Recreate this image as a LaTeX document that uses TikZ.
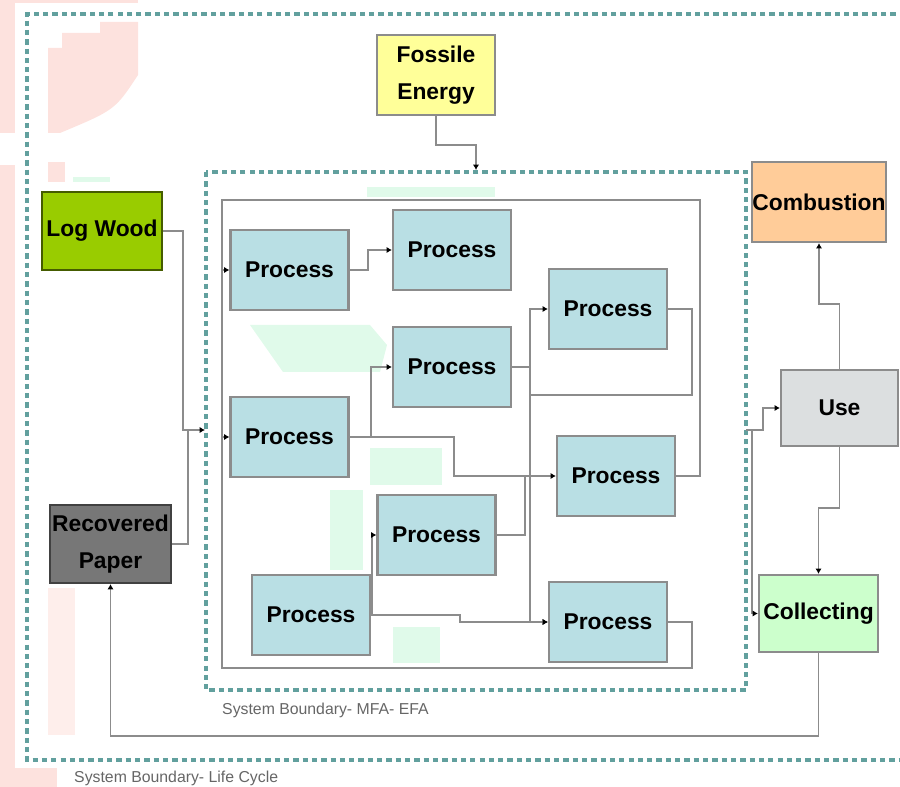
\documentclass[tikz,border=0pt]{standalone}
\usepackage{fontspec}
\setmainfont{Liberation Sans}
\usepackage{tikz}
\usetikzlibrary{arrows.meta, calc}
\definecolor{procBlue}{RGB}{185,223,228}
\definecolor{woodGreen}{RGB}{153,204,0}
\definecolor{fossilYellow}{RGB}{255,255,153}
\definecolor{combOrange}{RGB}{255,204,153}
\definecolor{useGray}{RGB}{220,223,224}
\definecolor{collGreen}{RGB}{204,255,204}
\definecolor{paperGray}{RGB}{119,119,119}
\definecolor{boundTeal}{RGB}{98,160,158}
\definecolor{lineGray}{RGB}{140,140,140}
\definecolor{bgPink}{RGB}{253,226,222}
\definecolor{bgMint}{RGB}{224,250,234}
\tikzset{
  box/.style={draw=lineGray, line width=1.2pt, inner sep=0pt, align=center,
    font=\fontsize{13}{21}\selectfont\bfseries},
  process/.style={box, fill=procBlue, minimum width=2.36cm, minimum height=1.6cm},
  conn/.style={draw=lineGray, line width=0.9pt},
  flow/.style={conn, -{Latex[length=3pt,width=3.5pt,color=black]}},
  boundary/.style={boundTeal, line width=2pt, dash pattern=on 3pt off 2.3pt},
  bnote/.style={anchor=west, text=black!60, font=\fontsize{9}{10}\selectfont}
}

\begin{document}
\begin{tikzpicture}[x=0.02cm, y=-0.02cm]
  \useasboundingbox (0,0) rectangle (900,787);
  % faded slide background
  \fill[bgPink] (0,0) rectangle (15,133);
  \fill[bgPink] (0,165) rectangle (15,787);
  \fill[bgPink] (0,768) rectangle (57,787);
  \fill[bgPink] (15,0) rectangle (138,3);
  \fill[bgPink] (48,48) -- (62,48) -- (62,33) -- (100,33) -- (100,22) -- (138,22)
    -- (138,75) .. controls (115,110) .. (60,133) -- (48,133) -- cycle;
  \fill[bgPink] (48,162) rectangle (65,182);
  \fill[bgPink!60] (48,588) rectangle (75,735);
  \fill[bgMint] (250,325) -- (370,325) -- (387,345) -- (380,372) -- (283,372) -- cycle;
  \fill[bgMint] (370,448) rectangle (442,485);
  \fill[bgMint] (330,490) rectangle (363,570);
  \fill[bgMint] (393,627) rectangle (440,663);
  \fill[bgMint] (367,187) rectangle (495,197);
  \fill[bgMint] (73,177) rectangle (110,182);

  % system boundaries
  \draw[boundary] (905,14) -- (27,14) -- (27,760) -- (905,760);
  \draw[boundary] (206,172) rectangle (746,690);
  \node[bnote] at (216,710) {System Boundary- MFA- EFA};
  \node[bnote] at (68,778) {System Boundary- Life Cycle};

  % outside boxes
  \node[box, fill=fossilYellow, minimum width=2.36cm, minimum height=1.6cm] (fossil) at (436,75) {Fossile\\Energy};
  \node[box, fill=woodGreen, draw=woodGreen!45!black, minimum width=2.4cm, minimum height=1.56cm] (wood) at (102,231) {Log Wood};
  \node[box, fill=paperGray, draw=paperGray!55!black, minimum width=2.42cm, minimum height=1.56cm] (paper) at (110.5,544) {Recovered\\Paper};
  \node[box, fill=combOrange, minimum width=2.36cm, minimum height=1.6cm] (combust) at (819,202) {Combustion};
  \node[box, fill=useGray, minimum width=2.34cm, minimum height=1.52cm] (use) at (839.5,408) {Use};
  \node[box, fill=collGreen, minimum width=2.38cm, minimum height=1.54cm] (collect) at (818.5,613.5) {Collecting};

  % processes
  \foreach \n/\x/\y in {p1/289.5/270, p2/452/250, p3/608/309, p4/452/367, p5/289.5/437,
                        p6/616/476, p7/436.5/535, p8/311/615, p9/608/622}
    \node[process] (\n) at (\x,\y) {Process};

  \coordinate (mfaIn) at (205,430);
  \coordinate (mfaTop) at (476,170);
  \coordinate (mfaOut) at (746,430);
  \coordinate (loopA) at (222,270);
  \coordinate (loopB) at (222,437);
  \coordinate (bus) at (530,367);

  % recycle loop
  \draw[conn] (p6.east) -| (700,200) -| (222,668) -| (692,622) -- (p9.east);
  \draw[flow] (loopA) -- (p1.west);
  \draw[flow] (loopB) -- (p5.west);

  \draw[flow] (p1.east) -| (368,250) -- (p2.west);
  \draw[flow] (p5.east) -| (371,367) -- (p4.west);
  \draw[flow] (p5.east) -| (454,476) -- (p6.west);
  \draw[flow] (p4.east) -- (bus) |- (p3.west);
  \draw[flow] (bus) |- (p9.west);
  \draw[conn] (p7.east) -| (525,476);
  \draw[conn] (p3.east) -| (692,395) -- (530,395);
  \draw[flow] (p8.east) -- (372,615) |- (p7.west);
  \draw[flow] (p8.east) -| (460,622) -- (p9.west);

  % flows across the boundaries
  \draw[flow] (wood.east) -| (183,430) -- (mfaIn);
  \draw[conn] (paper.east) -| (188,430);
  \draw[flow] (fossil.south) |- (476,145) -- (mfaTop);
  \draw[flow] (mfaOut) -| (763,408) -- (use.west);
  \draw[flow] (mfaOut) -| (752,613.5) -- (collect.west);
  \draw[flow] (use.north) |- (819,304) -- (combust.south);
  \draw[flow] (use.south) |- (818.5,508) -- (collect.north);
  \draw[flow] (collect.south) |- (110.5,736) -- (paper.south);
\end{tikzpicture}
\end{document}
